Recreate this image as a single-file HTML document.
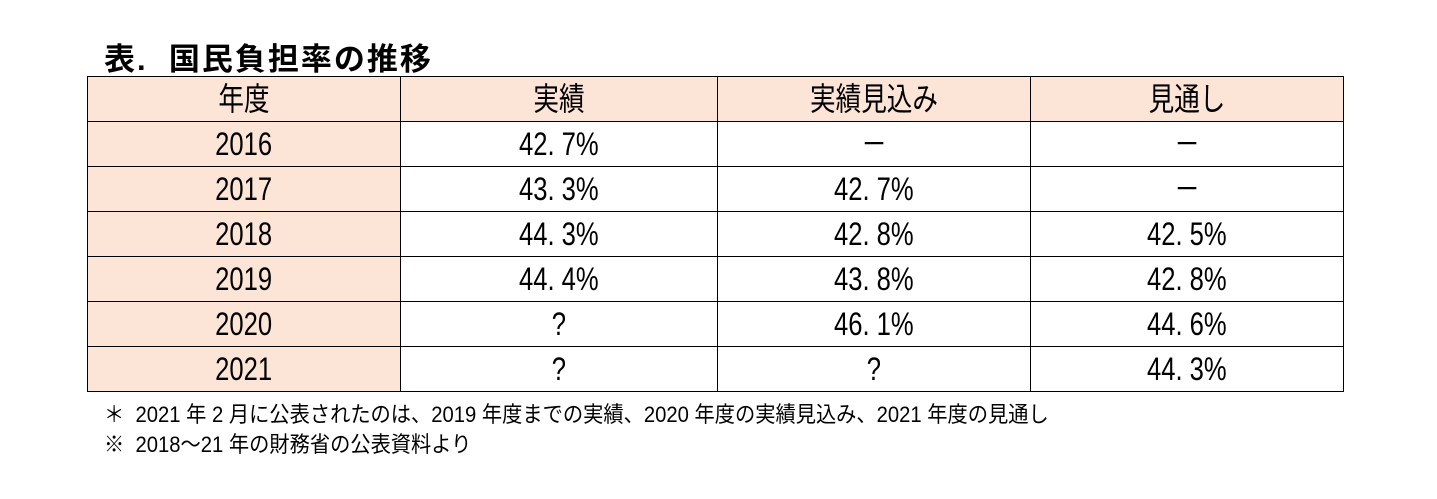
<!DOCTYPE html>
<html><head><meta charset="utf-8"><style>
body{margin:0;width:1437px;height:499px;background:#fff;position:relative;font-family:"Liberation Sans","Noto Sans CJK JP",sans-serif;overflow:hidden}
#title{position:absolute;left:104px;top:34px;font-size:31px;font-weight:bold;color:#000;letter-spacing:2px}
table{position:absolute;left:87px;top:76px;border-collapse:collapse;table-layout:fixed}
td{border:1.5px solid #000;height:43px;box-sizing:border-box;text-align:center;font-size:32px;padding:0;color:#000;line-height:43px}
tr{height:45px}
td span{display:inline-block;transform:scaleX(0.8)}
.pk{background:#fce4d6}
.note{position:absolute;left:104px;font-size:22px;color:#000;transform-origin:left top;transform:scaleX(0.92)}
</style></head><body>
<div id="title">表.&nbsp;&nbsp;国民負担率の推移</div>
<table>
<colgroup><col style="width:313px"><col style="width:317px"><col style="width:313px"><col style="width:313px"></colgroup>
<tr class="pk"><td><span>年度</span></td><td><span>実績</span></td><td><span>実績見込み</span></td><td><span>見通し</span></td></tr>
<tr><td class="pk"><span>2016</span></td><td><span>42. 7%</span></td><td><span>－</span></td><td><span>－</span></td></tr>
<tr><td class="pk"><span>2017</span></td><td><span>43. 3%</span></td><td><span>42. 7%</span></td><td><span>－</span></td></tr>
<tr><td class="pk"><span>2018</span></td><td><span>44. 3%</span></td><td><span>42. 8%</span></td><td><span>42. 5%</span></td></tr>
<tr><td class="pk"><span>2019</span></td><td><span>44. 4%</span></td><td><span>43. 8%</span></td><td><span>42. 8%</span></td></tr>
<tr><td class="pk"><span>2020</span></td><td><span>?</span></td><td><span>46. 1%</span></td><td><span>44. 6%</span></td></tr>
<tr><td class="pk"><span>2021</span></td><td><span>?</span></td><td><span>?</span></td><td><span>44. 3%</span></td></tr>
</table>
<div class="note" style="top:397px">＊&nbsp;&nbsp;2021 年 2 月に公表されたのは、2019 年度までの実績、2020 年度の実績見込み、2021 年度の見通し</div>
<div class="note" style="top:427px">※&nbsp;&nbsp;2018～21 年の財務省の公表資料より</div>
</body></html>
